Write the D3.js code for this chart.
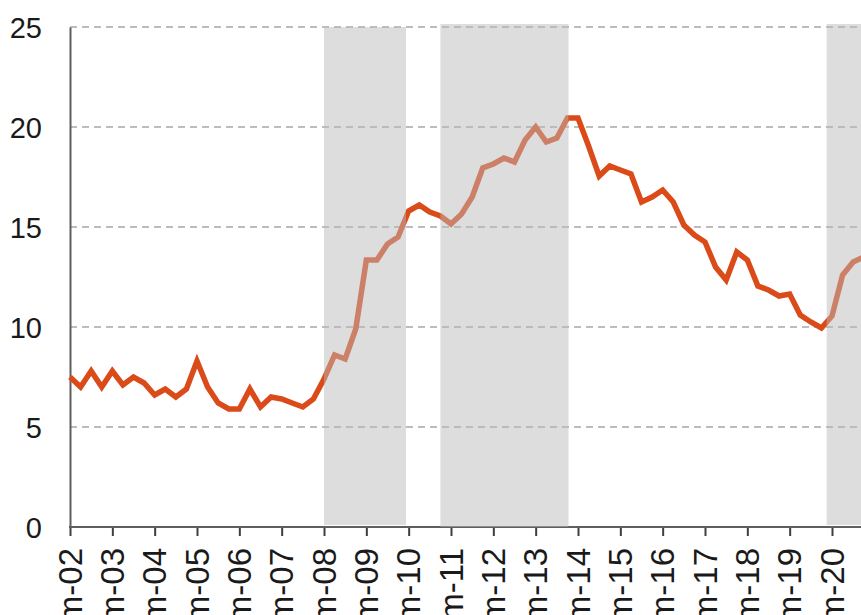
<!DOCTYPE html>
<html>
<head>
<meta charset="utf-8">
<script src="https://cdn.jsdelivr.net/npm/d3@7/dist/d3.min.js"></script>
<style>
  html, body { margin: 0; padding: 0; background: #ffffff; overflow: hidden; }
  svg { display: block; }
</style>
</head>
<body>
<svg id="chart" width="861" height="615"></svg>
<script>
// Quarterly series, starting at m-02 (index 0), one value per quarter
const values = [
  7.5, 7.0, 7.8, 7.0,
  7.8, 7.1, 7.5, 7.2,
  6.6, 6.9, 6.5, 6.9,
  8.3, 7.0, 6.2, 5.9,
  5.9, 6.9, 6.0, 6.5,
  6.4, 6.2, 6.0, 6.4,
  7.4, 8.6, 8.4, 9.9,
  13.35, 13.35, 14.15, 14.5,
  15.8, 16.1, 15.75, 15.55,
  15.15, 15.65, 16.5, 17.95,
  18.15, 18.45, 18.25, 19.35,
  20.0, 19.25, 19.45, 20.45,
  20.45, 19.05, 17.55, 18.05,
  17.85, 17.65, 16.25, 16.5,
  16.85, 16.25, 15.1, 14.6,
  14.25, 13.0, 12.35, 13.75,
  13.35, 12.05, 11.85, 11.55,
  11.65, 10.6, 10.25, 9.95,
  10.55, 12.6, 13.25, 13.5
];
const yearLabels = ["m-02","m-03","m-04","m-05","m-06","m-07","m-08","m-09","m-10",
  "m-11","m-12","m-13","m-14","m-15","m-16","m-17","m-18","m-19","m-20"];
const yearTickIndex = [0,4,8,12,16,20,24,28,32,36,40,44,48,52,56,60,64,68,72];
const yTicks = [0, 5, 10, 15, 20, 25];
// Shaded periods (quarter index start/end, value top/bottom)
const bandStart = [24, 35, 71.5];
const bandEnd = [31.75, 47.1, 77];
const bandTop = [25, 25.15, 25.15];
const bandBottom = [0.1, 0, 0.1];

const svg = d3.select("#chart");
const x = d3.scaleLinear().domain([0, 72]).range([70, 832]);
const y = d3.scaleLinear().domain([0, 25]).range([527, 27]);

const orange = "#DB4A19";

// Gridlines
svg.append("g")
  .selectAll("line")
  .data(yTicks.filter(d => d > 0))
  .join("line")
  .attr("x1", x(0)).attr("x2", 861)
  .attr("y1", d => y(d)).attr("y2", d => y(d))
  .attr("stroke", "#bdbdbd")
  .attr("stroke-width", 1.8)
  .attr("stroke-dasharray", "7,5");

// Bottom axis
const xAxis = d3.axisBottom(x)
  .tickValues(yearTickIndex)
  .tickSize(9)
  .tickFormat("");
const gx = svg.append("g")
  .attr("transform", `translate(0,${y(0)})`)
  .call(xAxis);
gx.select(".domain").remove();
gx.selectAll(".tick line").attr("stroke", "#3f3f3f").attr("stroke-width", 2);
svg.append("line")
  .attr("x1", x(0) - 1).attr("x2", 861)
  .attr("y1", y(0)).attr("y2", y(0))
  .attr("stroke", "#5f5f5f").attr("stroke-width", 2);

// Left axis
const yAxis = d3.axisLeft(y).tickValues(yTicks).tickSize(0).tickPadding(28);
const gy = svg.append("g")
  .attr("transform", `translate(${x(0)},0)`)
  .call(yAxis);
gy.select(".domain").attr("stroke", "#5f5f5f").attr("stroke-width", 2);
gy.selectAll(".tick text")
  .attr("font-family", "'Liberation Sans', Arial, sans-serif")
  .attr("font-size", 29)
  .attr("fill", "#1a1a1a")
  .attr("dy", "0.36em");

// X labels (rotated)
svg.append("g")
  .selectAll("text")
  .data(yearTickIndex)
  .join("text")
  .attr("transform", d => `translate(${x(d)},548) rotate(-90)`)
  .attr("text-anchor", "end")
  .attr("dy", "0.35em")
  .attr("font-family", "'Liberation Sans Narrow', 'Arial Narrow', 'Liberation Sans', sans-serif")
  .attr("font-size", 33)
  .attr("fill", "#1a1a1a")
  .text((d, i) => yearLabels[i]);

// Line
const line = d3.line()
  .x((d, i) => x(i))
  .y(d => y(d));
svg.append("path")
  .datum(values)
  .attr("d", line)
  .attr("fill", "none")
  .attr("stroke", orange)
  .attr("stroke-width", 5.5)
  .attr("stroke-linejoin", "miter")
  .attr("stroke-miterlimit", 3);

// Shaded bands (translucent gray overlay)
svg.append("g")
  .selectAll("rect")
  .data(bandStart)
  .join("rect")
  .attr("x", d => x(d))
  .attr("width", (d, i) => x(bandEnd[i]) - x(d))
  .attr("y", (d, i) => y(bandTop[i]))
  .attr("height", (d, i) => y(bandBottom[i]) - y(bandTop[i]))
  .attr("fill", "rgb(185,185,185)")
  .attr("fill-opacity", 0.49);
</script>
</body>
</html>
